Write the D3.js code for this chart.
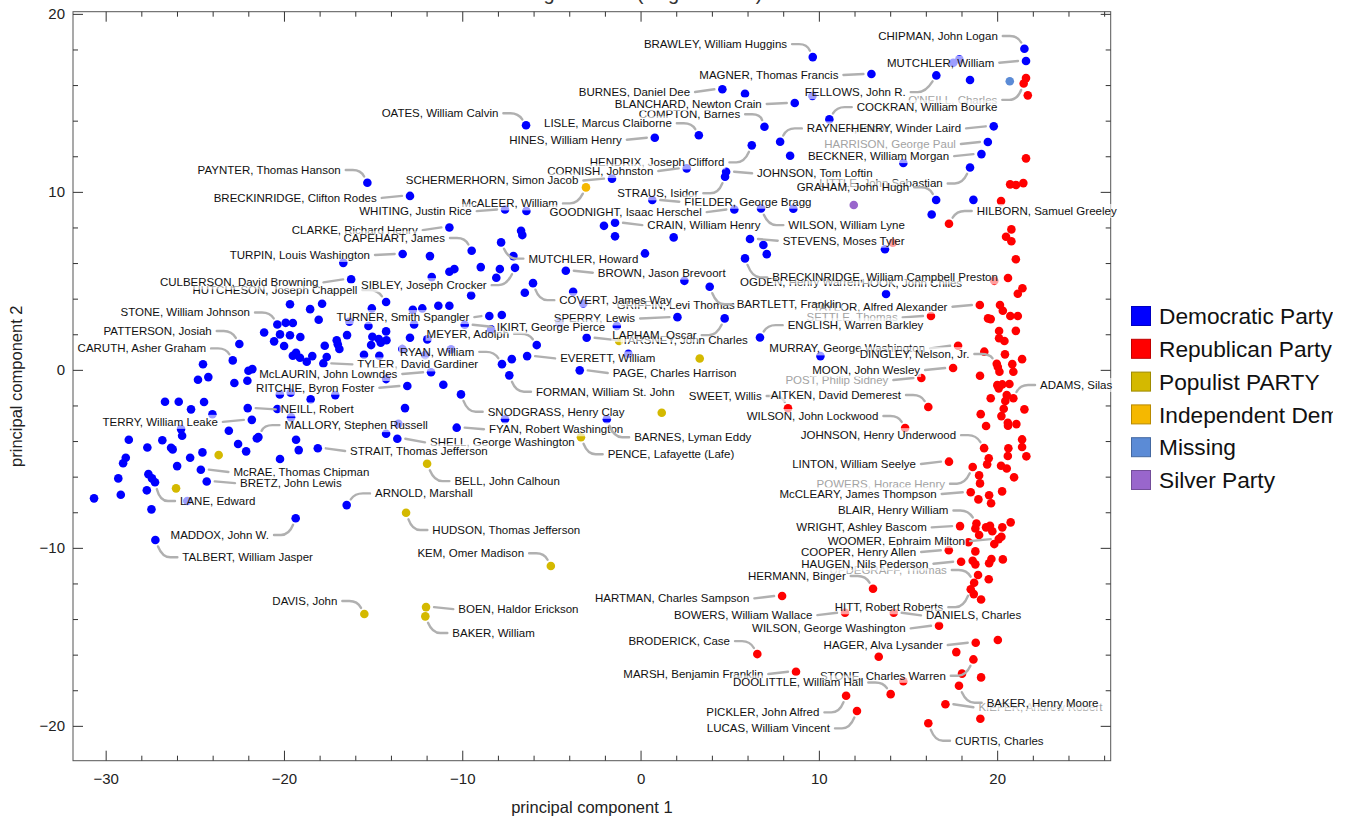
<!DOCTYPE html>
<html><head><meta charset="utf-8">
<script src="https://cdn.jsdelivr.net/npm/d3@7"></script>
<style>body{margin:0;background:#fff;} svg{display:block;font-family:"Liberation Sans",Arial,Helvetica,sans-serif;}</style>
</head><body><svg id="c" width="1351" height="824"></svg>
<script>
const titleText = "House of Congressmen (August 1893)";
const xTitle = "principal component 1";
const yTitle = "principal component 2";
const xTickLabels = [-30, -20, -10, 0, 10, 20];
const yTickLabels = [-20, -10, 0, 10, 20];
const partyNames = ["Democratic Party","Republican Party","Populist PARTY","Independent Democrat","Missing","Silver Party"];
const partyColors = ["#0000ff","#ff0000","#d4b900","#f5b800","#5b8bd6","#9966cc"];

const democrats = [
["PAYNTER, Thomas Hanson",-15.35,10.54],["BRECKINRIDGE, Clifton Rodes",-12.96,9.80],["TURPIN, Louis Washington",-13.37,6.54],
["OATES, William Calvin",-6.45,13.77],["BURNES, Daniel Dee",4.56,15.79],["",5.83,15.54],["LISLE, Marcus Claiborne",3.24,13.21],
["HINES, William Henry",0.77,13.07],["HENDRIX, Joseph Clifford",6.21,12.64],["COMPTON, Barnes",6.92,13.69],["CORNISH, Johnston",2.56,11.35],
["SCHERMERHORN, Simon Jacob",-1.63,10.77],["JOHNSON, Tom Loftin",4.77,11.16],["STRAUS, Isidor",4.71,10.88],["FIELDER, George Bragg",0.63,9.57],
["GOODNIGHT, Isaac Herschel",5.23,9.04],["WILSON, William Lyne",6.73,9.10],["",8.54,9.08],["WHITING, Justin Rice",-7.63,9.04],["",-6.43,8.95],
["CLARKE, Richard Henry",-10.75,8.03],["",-2.08,8.12],["CRAIN, William Henry",-1.46,8.29],["",-1.46,7.53],["",1.83,7.47],
["STEVENS, Moses Tyler",6.11,7.38],["",6.86,7.04],["",-6.73,7.84],["",-6.66,7.60],["MUTCHLER, Howard",-7.85,7.19],["CAPEHART, James",-9.50,6.72],
["",-11.84,6.42],["",-7.16,6.42],["",0.22,6.57],["BRECKINRIDGE, William Campbell Preston",5.83,6.29],["BRAWLEY, William Huggins",9.63,17.60],
["CHIPMAN, John Logan",21.50,18.07],["MUTCHLER, William",21.59,17.38],["",17.51,17.28],["",17.85,17.47],["MAGNER, Thomas Francis",12.92,16.65],
["FELLOWS, John R.",16.56,16.57],["",18.45,16.31],["",9.61,15.41],["BLANCHARD, Newton Crain",8.62,15.02],["COCKRAN, William Bourke",10.56,14.10],
["HENRY, Winder Laird",19.78,13.71],["HARRISON, George Paul",19.45,12.83],["RAYNER, Isidor",7.80,12.84],["BECKNER, William Morgan",19.09,12.15],
["",8.36,12.06],["",14.71,11.65],["LITTLE, John Sebastian",18.45,11.40],["GRAHAM, John Hugh",16.55,9.57],["",18.64,9.58],["",16.30,8.76],
["",13.68,6.80],["",7.05,6.53],["HOOK, John Chiles",13.74,4.29],["ENGLISH, Warren Barkley",6.67,1.85],["",10.06,0.80],
["",-10.75,5.54],["",-10.47,5.69],["",-11.74,5.24],["",-8.99,5.80],["",-7.92,5.69],["SIBLEY, Joseph Crocker",-7.07,5.76],["",-8.12,5.20],
["BROWN, Jason Brevoort",-4.22,5.60],["OGDEN, Henry Warren",2.43,5.03],["BARTLETT, Franklin",3.85,4.70],["COVERT, James Way",-6.06,4.90],
["",-6.52,4.36],["",-9.53,4.21],["",-3.81,4.42],["GRIFFIN, Levi Thomas",-3.24,3.76],["SPERRY, Lewis",2.04,2.99],["LAPHAM, Oscar",4.69,2.92],
["",-12.27,3.48],["",-11.37,3.63],["",-10.75,3.63],["TURNER, Smith Spangler",-8.51,3.05],["",-7.81,3.11],["IKIRT, George Pierce",-9.89,2.56],
["",-8.41,2.30],["",-4.58,2.67],["",-1.36,2.49],["",-11.99,1.74],["MEYER, Adolph",-5.85,1.42],["TARSNEY, John Charles",-3.05,1.83],
["",-0.71,0.93],["RYAN, William",-7.80,0.35],["",-7.25,0.63],["EVERETT, William",-6.39,0.80],["",-10.66,1.18],["",-12.11,0.86],
["McLAURIN, John Lowndes",-11.78,-0.11],["PAGE, Charles Harrison",-3.44,0.00],["FORMAN, William St. John",-7.39,-0.28],["",-11.09,-0.81],
["SNODGRASS, Henry Clay",-10.10,-1.35],["",-7.63,-2.75],["BARNES, Lyman Eddy",-1.92,-2.75],["FYAN, Robert Washington",-10.34,-3.22],
["",-27.46,-7.81],["MADDOX, John W.",-19.37,-8.31],["TALBERT, William Jasper",-27.24,-9.53],
["",-16.70,6.04],["CULBERSON, David Browning",-16.26,5.11],["HUTCHESON, Joseph Chappell",-14.30,3.84],["",-19.69,3.71],["",-18.56,3.44],
["",-17.89,3.74],["",-18.08,2.84],["",-15.10,3.48],["",-12.80,3.40],["STONE, William Johnson",-20.40,2.58],["",-19.93,2.67],["",-19.53,2.66],
["",-20.25,2.02],["",-19.69,1.97],["",-19.11,1.87],["",-21.14,2.13],["",-20.58,1.63],["",-20.02,1.37],["",-15.29,2.49],["",-14.30,2.19],
["",-16.36,2.73],["",-12.73,2.58],["",-16.49,1.98],["",-17.07,1.69],["",-17.01,1.46],["",-17.74,1.38],["",-16.92,1.20],["",-15.07,1.89],
["",-14.71,1.76],["",-14.28,1.69],["",-14.60,1.55],["",-15.14,1.42],["",-12.96,1.83],["",-13.39,1.20],["",-15.54,0.88],["",-14.68,0.82],
["PATTERSON, Josiah",-22.53,1.48],["",-19.53,0.82],["",-19.35,0.99],["",-19.13,0.71],["",-18.44,0.80],["",-18.75,0.48],
["TYLER, David Gardiner",-17.82,0.39],["",-17.63,0.75],["CARUTH, Asher Graham",-22.90,0.56],["",-24.57,0.34],["",-22.02,-0.02],
["",-21.80,0.07],["",-24.85,-0.53],["",-24.27,-0.38],["",-22.81,-0.71],["",-22.08,-0.58],["",-14.30,-0.49],["RITCHIE, Byron Foster",-13.11,-0.88],
["",-20.26,-1.35],["",-19.65,-1.26],["",-18.53,-1.63],["",-17.15,-1.39],["",-26.70,-1.76],["",-25.93,-1.76],["",-24.51,-1.78],["",-25.24,-2.19],
["",-24.04,-2.47],["NEILL, Robert",-22.06,-2.12],["",-20.40,-2.17],["",-13.24,-2.12],["TERRY, William Leake",-21.83,-2.78],["",-19.63,-2.64],
["",-25.80,-3.30],["",-25.74,-3.67],["",-23.12,-3.39],["",-21.55,-3.82],["MALLORY, Stephen Russell",-21.46,-3.75],["",-14.30,-3.56],
["",-13.61,-3.00],["SHELL, George Washington",-13.67,-3.84],["",-28.73,-3.90],["",-26.85,-3.93],["",-27.69,-4.33],["",-26.36,-4.35],
["",-26.27,-4.44],["",-22.60,-4.14],["",-22.15,-4.55],["",-19.35,-3.90],["",-19.20,-4.48],["STRAIT, Thomas Jefferson",-18.13,-4.38],
["",-24.60,-4.61],["",-28.90,-4.91],["",-29.05,-5.22],["",-25.29,-4.91],["",-20.25,-4.98],["",-26.02,-5.38],["McRAE, Thomas Chipman",-24.69,-5.58],
["",-29.32,-6.07],["",-27.63,-5.83],["",-27.43,-6.07],["LANE, Edward",-27.26,-6.29],["BRETZ, John Lewis",-24.36,-6.24],["",-27.72,-6.74],
["",-29.18,-6.99],["",-30.68,-7.19],["ARNOLD, Marshall",-16.51,-7.57],["",-25.45,-7.34]
];

const republicans = [
["",21.59,16.42],["O'NEILL, Charles",21.46,16.12],["",21.69,15.45],["",21.59,11.91],["",20.70,10.45],["",21.03,10.41],["",21.44,10.52],
["",20.19,9.51],["HILBORN, Samuel Greeley",17.27,8.24],["",20.77,7.92],["",20.47,7.51],["",20.77,7.25],["",21.02,6.24],["",14.12,7.17],
["",20.58,5.19],["",19.81,5.03],["",21.39,4.61],["",21.13,4.30],["TAYLOR, Alfred Alexander",19.00,3.67],["",20.13,3.67],["",20.29,3.35],
["",20.71,3.05],["",21.13,3.05],["",19.46,2.92],["",19.61,2.88],["SETTLE, Thomas",16.26,3.05],["",20.08,2.21],["",21.02,2.22],["",20.08,1.80],
["",20.38,1.65],["MURRAY, George Washington",17.78,1.38],["",19.25,1.05],["",20.41,0.90],["",21.37,0.63],["DINGLEY, Nelson, Jr.",19.95,0.37],
["",20.01,0.19],["",20.82,0.35],["",20.10,-0.08],["",20.88,-0.08],["",19.01,-0.30],["MOON, John Wesley",17.50,0.13],["POST, Philip Sidney",15.72,-0.43],
["",19.98,-0.83],["",20.26,-0.79],["",20.66,-0.77],["",20.06,-1.01],["",20.51,-1.39],["",20.43,-1.72],["ADAMS, Silas",20.88,-1.57],["",19.61,-1.57],
["AITKEN, David Demerest",16.11,-2.06],["SWEET, Willis",8.24,-2.13],["",20.34,-2.16],["",21.50,-2.19],["",19.05,-2.46],["",20.21,-2.57],
["",20.57,-2.94],["",21.05,-3.02],["",19.35,-3.13],["",20.58,-3.11],["WILSON, John Lockwood",14.81,-3.24],["",21.37,-3.88],["",20.60,-4.38],
["",21.37,-4.31],["JOHNSON, Henry Underwood",19.24,-4.37],["",21.61,-4.83],["",20.57,-4.81],["LINTON, William Seelye",17.27,-5.13],
["",19.50,-4.94],["",19.41,-5.28],["",20.19,-5.36],["",20.51,-5.51],["POWERS, Horace Henry",18.60,-5.43],["",18.96,-5.90],["",20.92,-6.01],
["",19.01,-6.35],["McCLEARY, James Thompson",18.49,-6.85],["",20.25,-6.80],["",19.52,-7.02],["",18.92,-7.25],["",19.63,-7.47],
["WRIGHT, Ashley Bascom",17.89,-8.75],["BLAIR, Henry William",18.81,-8.60],["",18.75,-8.88],["",19.35,-8.82],["",19.57,-8.73],["",19.70,-9.04],
["",20.26,-8.82],["",20.73,-8.54],["",18.96,-9.25],["",20.21,-9.35],["WOOMER, Ephraim Milton",20.06,-9.48],["",19.81,-9.76],["",18.36,-9.66],
["COOPER, Henry Allen",17.26,-10.11],["",18.75,-10.17],["HAUGEN, Nils Pederson",17.95,-10.75],["",18.60,-10.70],["",18.75,-10.90],
["",19.52,-10.84],["",19.65,-10.60],["",20.29,-10.62],["",18.90,-11.50],["",19.50,-11.74],["UPDEGRAFF, Thomas",18.68,-11.93],
["HERMANN, Binger",13.01,-12.27],["HITT, Robert Roberts",18.49,-12.30],["",18.66,-12.57],["",19.07,-12.87],["HARTMAN, Charles Sampson",7.91,-12.68],
["DANIELS, Charles",14.17,-13.62],["BOWERS, William Wallace",11.44,-13.62],["WILSON, George Washington",16.71,-14.35],["",20.01,-15.15],
["HAGER, Alva Lysander",18.77,-15.30],["",13.33,-16.09],["",17.68,-15.83],["BRODERICK, Case",6.52,-15.94],["STONE, Charles Warren",18.64,-16.24],
["MARSH, Benjamin Franklin",8.69,-16.93],["",14.71,-17.47],["",18.00,-17.04],["",19.07,-17.25],["BAKER, Henry Moore",17.83,-17.72],
["DOOLITTLE, William Hall",14.00,-18.19],["PICKLER, John Alfred",11.50,-18.28],["LUCAS, William Vincent",12.11,-19.14],
["KIEFER, Andrew Robert",17.07,-18.76],["",19.03,-19.57],["CURTIS, Charles",16.11,-19.83]
];

const populists = [
["KEM, Omer Madison",-5.06,-10.99],["BOEN, Haldor Erickson",-12.06,-13.30],["BAKER, William",-12.10,-13.82],["DAVIS, John",-15.52,-13.69],
["HUDSON, Thomas Jefferson",-13.18,-8.00],["",-1.23,1.65],["",3.29,0.67],["",1.16,-2.38],["PENCE, Lafayette (Lafe)",-3.37,-3.76],
["BELL, John Calhoun",-12.00,-5.25],["",-23.69,-4.76],["",-26.08,-6.63]
];
const independentDems = [["McALEER, William",-3.09,10.28]];
const missing = [["",20.68,16.24]];
const silver = [["",11.93,9.29]];

// label layout: [name, dx px, dy px, anchor] in drawing order
const labelLayout = [
["HENDRIX, Joseph Clifford",-27.4,17,"end"],["RAYNER, Isidor",26.7,-13.4,"start"],["OGDEN, Henry Warren",55.7,1,"start"],
["GRIFFIN, Levi Thomas",33.4,1.7,"start"],["TARSNEY, John Charles",35,2.3,"start"],["HUTCHESON, Joseph Chappell",-28.7,-12,"end"],
["CLARKE, Richard Henry",-31.7,2.7,"end"],["McALEER, William",-28,16,"end"],["STRAUS, Isidor",-26.7,16.6,"end"],
["TAYLOR, Alfred Alexander",-32.4,1.7,"end"],["MURRAY, George Washington",-33,2.6,"end"],["LITTLE, John Sebastian",-27.3,16,"end"],
["HITT, Robert Roberts",-27.4,18,"end"],["MARSH, Benjamin Franklin",-32.7,2.3,"end"],["KIEFER, Andrew Robert",33,3,"start"],
["UPDEGRAFF, Thomas",-27.3,-12.7,"end"],["O'NEILL, Charles",-26.4,16.4,"end"],["COMPTON, Barnes",-24.3,-12.4,"end"],
["SPERRY, Lewis",-42.3,1.3,"end"],["MEYER, Adolph",-27.7,-11.3,"end"],["SETTLE, Thomas",-33.3,1.3,"end"],["POST, Philip Sidney",-33,2,"end"],
["McRAE, Thomas Chipman",32.6,2.3,"start"],
["POWERS, Horace Henry",-27.7,16.7,"end"],["HARRISON, George Paul",-32,2,"end"],["BURNES, Daniel Dee",-32.3,2.7,"end"],
["FELLOWS, John R.",-30.6,16.7,"end"],["HOOK, John Chiles",-24.3,-10.7,"start"],["BRAWLEY, William Huggins",-25.7,-13,"end"],
["CHIPMAN, John Logan",-26.6,-12.7,"end"],["MUTCHLER, William",-31.7,1.7,"end"],["MAGNER, Thomas Francis",-33,1,"end"],
["BLANCHARD, Newton Crain",-33,1,"end"],["COCKRAN, William Bourke",27.4,-12.3,"start"],["OATES, William Calvin",-27.7,-12,"end"],
["LISLE, Marcus Claiborne",-27,-12,"end"],["HINES, William Henry",-33,2,"end"],["HENRY, Winder Laird",-32.7,2,"end"],
["BECKNER, William Morgan",-32.3,2,"end"],["JOHNSON, Tom Loftin",31,1.6,"start"],["GRAHAM, John Hugh",-27,-12.7,"end"],
["CORNISH, Johnston",-33.4,2.7,"end"],["SCHERMERHORN, Simon Jacob",-33.7,1.8,"end"],["FIELDER, George Bragg",32,1.7,"start"],
["GOODNIGHT, Isaac Herschel",-32.6,2.7,"end"],["WILSON, William Lyne",27.3,16.7,"start"],["HILBORN, Samuel Greeley",27.7,-12.7,"start"],
["STEVENS, Moses Tyler",32.7,1.7,"start"],["CRAIN, William Henry",32.3,2.3,"start"],["WHITING, Justin Rice",-33.3,1.7,"end"],
["CAPEHART, James",-26.7,-12.7,"end"],["TURPIN, Louis Washington",-32.7,1,"end"],["PAYNTER, Thomas Hanson",-26.6,-12.7,"end"],
["BRECKINRIDGE, Clifton Rodes",-33.3,2,"end"],["MUTCHLER, Howard",27.3,16.2,"start"],["BROWN, Jason Brevoort",32,2,"start"],
["BRECKINRIDGE, William Campbell Preston",27.3,19,"start"],["BARTLETT, Franklin",27,17.6,"start"],["ENGLISH, Warren Barkley",27.7,-12.3,"start"],
["COVERT, James Way",26.3,17,"start"],["LAPHAM, Oscar",-28,16.7,"end"],["IKIRT, George Pierce",32,2,"start"],
["TURNER, Smith Spangler",-20,1,"end"],["SIBLEY, Joseph Crocker",-28.3,17.3,"end"],["CULBERSON, David Browning",-32.7,3,"end"],
["STONE, William Johnson",-27.3,-12,"end"],["PATTERSON, Josiah",-27.6,-13,"end"],["CARUTH, Asher Graham",-26.7,-12,"end"],
["TYLER, David Gardiner",34,1,"start"],["RYAN, William",-27.7,-12.3,"end"],["McLAURIN, John Lowndes",-33.7,1.7,"end"],
["RITCHIE, Byron Foster",-33,1.7,"end"],["FORMAN, William St. John",26.7,16.4,"start"],["EVERETT, William",33,2.3,"start"],
["PAGE, Charles Harrison",33,2.7,"start"],["NEILL, Robert",33,1.3,"start"],["TERRY, William Leake",-34,2,"end"],
["MALLORY, Stephen Russell",26,-12,"start"],["SNODGRASS, Henry Clay",26.7,17.4,"start"],["FYAN, Robert Washington",32.3,1.6,"start"],
["SHELL, George Washington",32.7,3.6,"start"],["STRAIT, Thomas Jefferson",32.3,2.7,"start"],["BARNES, Lyman Eddy",27.3,18,"start"],
["PENCE, Lafayette (Lafe)",26.7,17,"start"],["SWEET, Willis",-26.3,-12.3,"end"],["AITKEN, David Demerest",-27.3,-12,"end"],
["WILSON, John Lockwood",-26.7,-12,"end"],["JOHNSON, Henry Underwood",-28,-13,"end"],["LINTON, William Seelye",-33,2.3,"end"],
["McCLEARY, James Thompson",-34,1.7,"end"],["BLAIR, Henry William",-28,-13,"end"],["WRIGHT, Ashley Bascom",-33.3,1.3,"end"],
["WOOMER, Ephraim Milton",-33.7,2,"end"],["COOPER, Henry Allen",-32.7,1.7,"end"],["HAUGEN, Nils Pederson",-32.7,2,"end"],
["HERMANN, Binger",-27.3,-12.7,"end"],["HARTMAN, Charles Sampson",-32.7,2.3,"end"],["BOWERS, William Wallace",-32.7,2.3,"end"],
["DANIELS, Charles",32.3,2.6,"start"],["WILSON, George Washington",-33.3,2.6,"end"],["HAGER, Alva Lysander",-33,2.3,"end"],
["BRODERICK, Case",-27.3,-13,"end"],["STONE, Charles Warren",-27.6,16.4,"end"],["DOOLITTLE, William Hall",-27.4,-11.7,"end"],
["PICKLER, John Alfred",-26.7,16.6,"end"],["LUCAS, William Vincent",-27,17.3,"end"],["BAKER, Henry Moore",27.7,17,"start"],
["CURTIS, Charles",26.7,17.4,"start"],["ADAMS, Silas",26.7,-13.3,"start"],["DINGLEY, Nelson, Jr.",-27.4,-9.7,"end"],
["MOON, John Wesley",-33,2,"end"],["KEM, Omer Madison",-26.7,-12.7,"end"],["HUDSON, Thomas Jefferson",26.3,17.3,"start"],
["BOEN, Haldor Erickson",32.3,2,"start"],["BAKER, William",27,16.7,"start"],["DAVIS, John",-27,-13,"end"],
["MADDOX, John W.",-26.7,16.7,"end"],["TALBERT, William Jasper",27,17.3,"start"],["BELL, John Calhoun",27.3,17.3,"start"],
["ARNOLD, Marshall",28.3,-11.7,"start"],["LANE, Edward",25,18.7,"start"],["BRETZ, John Lewis",33.3,1.7,"start"]
];
const fadedLabels = ["HARRISON, George Paul","O'NEILL, Charles","SETTLE, Thomas","POST, Philip Sidney","POWERS, Horace Henry","KIEFER, Andrew Robert","UPDEGRAFF, Thomas"];
const noLeader = ["OGDEN, Henry Warren","GRIFFIN, Levi Thomas","HOOK, John Chiles"];

const svg = d3.select("#c");
const m = {left:73, right:1110.7, top:11.7, bottom:760.7};
const x = d3.scaleLinear().domain([-31.86, 26.34]).range([m.left, m.right]);
const y = d3.scaleLinear().domain([-21.93, 20.15]).range([m.bottom, m.top]);

// title (mostly off-canvas, as in the source)
svg.append("text").attr("x",(m.left+m.right)/2).attr("y",0).attr("text-anchor","middle")
  .attr("font-size",20).attr("fill","#333").text(titleText);

// frame + ticks
const axisG = svg.append("g");
axisG.append("rect").attr("x",m.left).attr("y",m.top).attr("width",m.right-m.left).attr("height",m.bottom-m.top)
  .attr("fill","none").attr("stroke","#555").attr("stroke-width",1);
const xt = d3.range(-30, 27, 2), yt = d3.range(-20, 21, 2);
xt.forEach(v=>{
  const L = v%10===0 ? 10 : 5, px = x(v);
  axisG.append("line").attr("x1",px).attr("x2",px).attr("y1",m.bottom).attr("y2",m.bottom-L).attr("stroke","#333");
  axisG.append("line").attr("x1",px).attr("x2",px).attr("y1",m.top).attr("y2",m.top+L).attr("stroke","#333");
});
yt.forEach(v=>{
  const L = v%10===0 ? 10 : 5, py = y(v);
  axisG.append("line").attr("y1",py).attr("y2",py).attr("x1",m.left).attr("x2",m.left+L).attr("stroke","#333");
  axisG.append("line").attr("y1",py).attr("y2",py).attr("x1",m.right).attr("x2",m.right-L).attr("stroke","#333");
});
const fmt = v => v<0 ? "\u2212"+Math.abs(v) : String(v);
xTickLabels.forEach(v=>{
  axisG.append("text").attr("x",x(v)).attr("y",m.bottom+23).attr("text-anchor","middle").attr("font-size",15).attr("fill","#222").text(fmt(v));
});
yTickLabels.forEach(v=>{
  axisG.append("text").attr("x",m.left-8).attr("y",y(v)+5).attr("text-anchor","end").attr("font-size",15).attr("fill","#222").text(fmt(v));
});
axisG.append("text").attr("x",(m.left+m.right)/2).attr("y",813).attr("text-anchor","middle").attr("font-size",16.5).attr("fill","#222").text(xTitle);
axisG.append("text").attr("transform",`translate(22,${(m.top+m.bottom)/2}) rotate(-90)`).attr("text-anchor","middle").attr("font-size",16.5).attr("fill","#222").text(yTitle);

// points
const groups = [democrats, republicans, populists, independentDems, missing, silver];
const pts = [];
groups.forEach((arr,i)=>arr.forEach(d=>pts.push({name:d[0], pc1:d[1], pc2:d[2], party:i})));
svg.append("g").selectAll("circle").data(pts).join("circle")
  .attr("cx",d=>x(d.pc1)).attr("cy",d=>y(d.pc2)).attr("r",4.3).attr("fill",d=>partyColors[d.party]);

// labels with translucent backgrounds and leaders
const byName = new Map(pts.filter(d=>d.name).map(d=>[d.name,d]));
const gL = svg.append("g").attr("font-size",11.5);
labelLayout.forEach(([name,dx,dy,anchor])=>{
  const p = byName.get(name); if(!p) return;
  const px = x(p.pc1), py = y(p.pc2);
  const lx = px+dx, ly = py+dy;
  const g = gL.append("g");
  const t = g.append("text").attr("x",lx).attr("y",ly).attr("dy","0.35em").attr("text-anchor",anchor)
    .attr("fill", fadedLabels.includes(name) ? "#a3a3a3" : "#111").text(name);
  const w = t.node().getComputedTextLength();
  const x0 = anchor==="end" ? lx-w : lx;
  g.insert("rect","text").attr("x",x0-1).attr("y",ly-7).attr("width",w+2).attr("height",14)
    .attr("fill","#fff").attr("fill-opacity",0.62);
  if(noLeader.includes(name)) return;
  const sx = anchor==="end" ? lx+5 : lx-5;
  const dir = px > sx ? 1 : -1;
  let path;
  if (Math.abs(py-ly) < 5) {
    path = `M${sx},${ly}L${px-dir*8},${py}`;
  } else {
    const hx = sx + dir*7, cx = hx + dir*8, cy = ly;
    const vx = px-cx, vy = py-cy, Lv = Math.hypot(vx,vy);
    const ex = px - vx/Lv*7, ey = py - vy/Lv*7;
    path = `M${sx},${ly}L${hx},${ly}Q${cx},${cy} ${ex},${ey}`;
  }
  g.insert("path","rect").attr("d",path).attr("fill","none").attr("stroke","#b0b0b0").attr("stroke-width",2.4).attr("stroke-linecap","round");
});

// legend
svg.append("defs").append("clipPath").attr("id","lc").append("rect").attr("x",1112).attr("y",280).attr("width",221).attr("height",230);
const lg = svg.append("g").attr("clip-path","url(#lc)");
partyNames.forEach((n,i)=>{
  const cy = 316 + i*32.8;
  lg.append("rect").attr("x",1131.5).attr("y",cy-9.5).attr("width",19).attr("height",19)
    .attr("fill",partyColors[i]).attr("stroke",d3.color(partyColors[i]).darker(0.8)).attr("stroke-width",1);
  lg.append("text").attr("x",1159).attr("y",cy).attr("dy","0.36em").attr("font-size",22.7).attr("fill","#111").text(n);
});
</script>
</body></html>
